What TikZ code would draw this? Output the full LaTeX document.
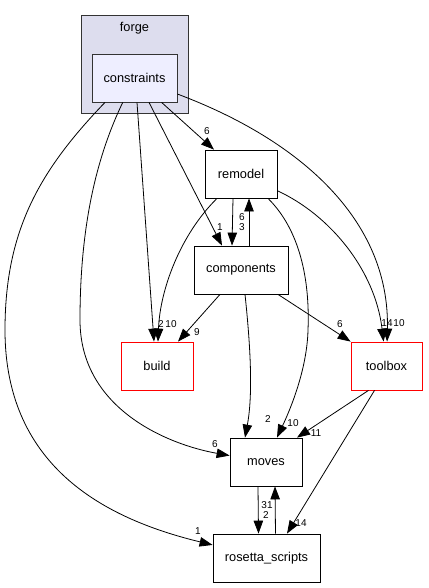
\documentclass[tikz,border=0pt]{standalone}
\usepackage{fontspec}
\setmainfont{Liberation Sans}
\usetikzlibrary{calc,arrows.meta}
\definecolor{clusterfill}{HTML}{DDDDEE}
\definecolor{innerfill}{HTML}{EEEEFF}
\definecolor{bordergray}{HTML}{333333}
\tikzset{
  dirbox/.style={draw=black, line width=0.8pt, fill=white, minimum height=48pt, inner sep=0pt, font=\fontsize{12.8}{14}\selectfont},
  redbox/.style={dirbox, draw=red},
  edge/.style={line width=0.8pt, -{Triangle[length=13pt,width=9.5pt]}},
  elabel/.style={font=\fontsize{10}{11}\selectfont, inner sep=0pt}
}
\begin{document}
\begin{tikzpicture}[x=1pt,y=-1pt]
\useasboundingbox (0,0) rectangle (428,588);
% cluster
\node[draw=bordergray, fill=clusterfill, line width=0.8pt, minimum width=107pt, minimum height=98pt, inner sep=0pt] (forge) at (134.5,64) {};
\node[font=\fontsize{12.8}{14}\selectfont, inner sep=0pt] (forgetitle) at (134.5,28) {forge};
\node[dirbox, draw=bordergray, fill=innerfill, minimum width=85pt] (constraints) at (134.5,78) {constraints};
% nodes
\node[dirbox, minimum width=72pt] (remodel) at (241,174) {remodel};
\node[dirbox, minimum width=94pt] (components) at (241,270) {components};
\node[redbox, minimum width=72pt] (build) at (157,366) {build};
\node[redbox, minimum width=71pt] (toolbox) at (386.5,366) {toolbox};
\node[dirbox, minimum width=72pt] (moves) at (266,462) {moves};
\node[dirbox, minimum width=107pt] (rosetta) at (266.5,558) {rosetta\_scripts};
% edges
\draw[edge] (constraints) -- (remodel);
\draw[edge] ($(constraints.south)+(14.5,0)$) -- ($(components.north)+(-19,0)$);
\draw[edge] ($(constraints.south)+(2.5,0)$) -- ($(build.north)+(-3,0)$);
\draw[edge] (constraints) .. controls (95,160) and (80,230) .. (80,320) .. controls (80,410) and (170,445) .. (moves);
\draw[edge] ($(constraints.south)+(-29.5,0)$) .. controls (40,170) and (5,230) .. (5,330) .. controls (5,470) and (110,520) .. (rosetta);
\draw[edge] (constraints) .. controls (300,140) and (390,220) .. (toolbox);
\draw[edge] ($(remodel.south)+(-24,0)$) .. controls (180,235) and (160,290) .. ($(build.north)+(1,0)$);
\draw[edge] (remodel) .. controls (330,215) and (375,270) .. (toolbox);
\draw[edge] ($(remodel.south)+(27,0)$) .. controls (300,230) and (310,280) .. (308,330) .. controls (307,370) and (290,410) .. ($(moves.north)+(11,0)$);
\draw[edge] ($(remodel.south)+(-8,0)$) -- ($(components.north)+(-9,0)$);
\draw[edge] ($(components.north)+(8,0)$) -- ($(remodel.south)+(8,0)$);
\draw[edge] ($(components.south)+(4,0)$) .. controls (252,360) and (252,400) .. ($(moves.north)+(-21,0)$);
\draw[edge] ($(components.south)+(-21,0)$) -- ($(build.north)+(21,0)$);
\draw[edge] ($(components.south)+(37,0)$) -- (toolbox.north west);
\draw[edge] ($(toolbox.south)+(-18,0)$) -- ($(moves.north)+(31,0)$);
\draw[edge] ($(toolbox.south)+(-12,0)$) -- ($(rosetta.north)+(20.5,0)$);
\draw[edge] ($(moves.south)+(-8,0)$) -- ($(rosetta.north)+(-8,0)$);
\draw[edge] ($(rosetta.north)+(9,0)$) -- ($(moves.south)+(9,0)$);
% labels
\node[elabel] (l1) at (207,131) {6};
\node[elabel] (l2) at (220,227) {1};
\node[elabel] (l3) at (242,217) {6};
\node[elabel] (l4) at (242,227) {3};
\node[elabel] (l5) at (161,324) {2};
\node[elabel] (l6) at (171,324) {10};
\node[elabel] (l7) at (197,332) {9};
\node[elabel] (l8) at (340,324) {6};
\node[elabel] (l9) at (387,323) {14};
\node[elabel] (l10) at (399,323) {10};
\node[elabel] (l11) at (215,444) {6};
\node[elabel] (l12) at (268,419) {2};
\node[elabel] (l13) at (293,423) {10};
\node[elabel] (l14) at (316,433) {11};
\node[elabel] (l15) at (267,505) {31};
\node[elabel] (l16) at (266,515) {2};
\node[elabel] (l17) at (301,523) {14};
\node[elabel] (l18) at (198,531) {1};
\end{tikzpicture}
\end{document}
